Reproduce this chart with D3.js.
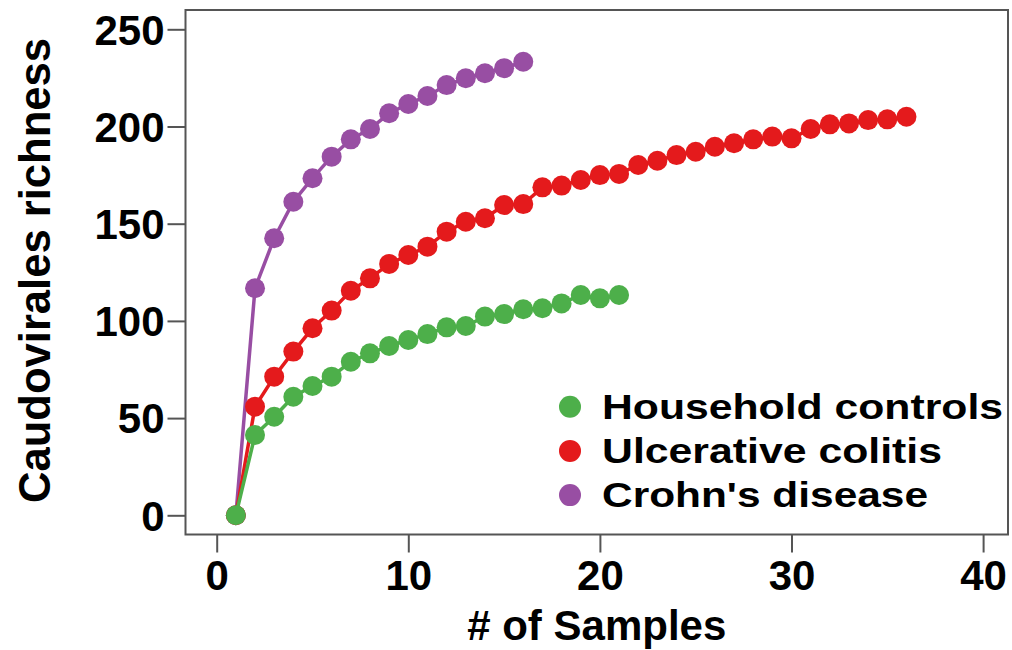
<!DOCTYPE html>
<html>
<head>
<meta charset="utf-8">
<script src="https://cdn.jsdelivr.net/npm/d3@7"></script>
<style>
  html, body { margin: 0; padding: 0; background: #fff; }
  svg { display: block; }
  text { font-family: "Liberation Sans", Arial, Helvetica, sans-serif; font-weight: bold; fill: #000; }
</style>
</head>
<body>
<svg id="chart" width="1012" height="650"></svg>
<script>
// Rarefaction curves: richness versus number of pooled samples
const seriesNames = ["Household controls", "Ulcerative colitis", "Crohn's disease"];
const seriesColors = ["#4daf4a", "#e41a1c", "#984ea3"];

const householdControls = [0, 41.3, 50.7, 61, 66.5, 71.3, 79, 83.3, 87.1, 90.2, 93.2, 96.7, 97.4,
  102.2, 103.5, 106, 106.5, 109, 113.3, 111.6, 113.3];
const ulcerativeColitis = [0, 55.9, 71.3, 84.2, 96.2, 105.3, 115.5, 121.9, 129.3, 133.9, 138.2,
  145.9, 151, 152.8, 159.6, 160.1, 168.7, 169.6, 172.5, 175, 175.6, 180.2, 182.4, 185.3, 187,
  189.6, 191.4, 193.4, 194.8, 193.9, 198.7, 201.1, 201.6, 203.3, 203.7, 205];
const crohnsDisease = [0, 116.8, 142.5, 161.3, 173.4, 184.5, 193.4, 198.7, 206.8, 211.6, 215.7,
  221.3, 224.8, 227.4, 230, 233.3];

const xTicks = [0, 10, 20, 30, 40];
const yTicks = [0, 50, 100, 150, 200, 250];
const xTitle = "# of Samples";
const yTitle = "Caudovirales richness";

const svg = d3.select("#chart");

const frame = { left: 185.5, right: 1008, top: 10, bottom: 534.5 };
const x = d3.scaleLinear().domain([0, 40]).range([216.7, 983.1]);
const y = d3.scaleLinear().domain([0, 250]).range([515.3, 29.3]);

// Plot box
svg.append("rect")
  .attr("x", frame.left).attr("y", frame.top)
  .attr("width", frame.right - frame.left).attr("height", frame.bottom - frame.top)
  .attr("fill", "none").attr("stroke", "#555").attr("stroke-width", 2);

// Axes
const xAxis = svg.append("g")
  .attr("transform", `translate(0,${frame.bottom})`)
  .call(d3.axisBottom(x).tickValues(xTicks).tickSize(18).tickPadding(8).tickFormat(d3.format("d")));
const yAxis = svg.append("g")
  .attr("transform", `translate(${frame.left},0)`)
  .call(d3.axisLeft(y).tickValues(yTicks).tickSize(18).tickPadding(3).tickFormat(d3.format("d")));

[xAxis, yAxis].forEach(g => {
  g.select(".domain").remove();
  g.selectAll(".tick line").attr("stroke", "#555").attr("stroke-width", 2);
  g.selectAll(".tick text").attr("font-size", 42).attr("fill", "#000")
    .attr("font-family", "'Liberation Sans', Arial, sans-serif").attr("font-weight", "bold");
});
yAxis.selectAll(".tick text").attr("dy", "0.35em");

// Axis titles
svg.append("text")
  .attr("x", (frame.left + frame.right) / 2).attr("y", 640)
  .attr("text-anchor", "middle").attr("font-size", 42)
  .text(xTitle);
svg.append("text")
  .attr("transform", `translate(50,270.5) rotate(-90)`)
  .attr("text-anchor", "middle").attr("font-size", 44)
  .attr("textLength", 465).attr("lengthAdjust", "spacingAndGlyphs")
  .text(yTitle);

// Curves, drawn so the household series sits on top
const allSeries = [householdControls, ulcerativeColitis, crohnsDisease];
const line = d3.line().x((d, i) => x(i + 1)).y(d => y(d));
[2, 1, 0].forEach(k => {
  const g = svg.append("g");
  g.append("path")
    .datum(allSeries[k])
    .attr("d", line)
    .attr("fill", "none")
    .attr("stroke", seriesColors[k])
    .attr("stroke-width", 3.5);
  g.selectAll("circle")
    .data(allSeries[k])
    .join("circle")
    .attr("cx", (d, i) => x(i + 1))
    .attr("cy", d => y(d))
    .attr("r", 10)
    .attr("fill", seriesColors[k]);
});

// Legend
const legendTop = 406.7, legendStep = 44.2;
const legendWidths = [401, 340, 326];
seriesNames.forEach((name, k) => {
  const cy = legendTop + k * legendStep;
  svg.append("circle").attr("cx", 570).attr("cy", cy).attr("r", 11).attr("fill", seriesColors[k]);
  svg.append("text")
    .attr("x", 602).attr("y", cy + 11.8)
    .attr("font-size", 35)
    .attr("textLength", legendWidths[k])
    .attr("lengthAdjust", "spacingAndGlyphs")
    .text(name);
});
</script>
</body>
</html>
